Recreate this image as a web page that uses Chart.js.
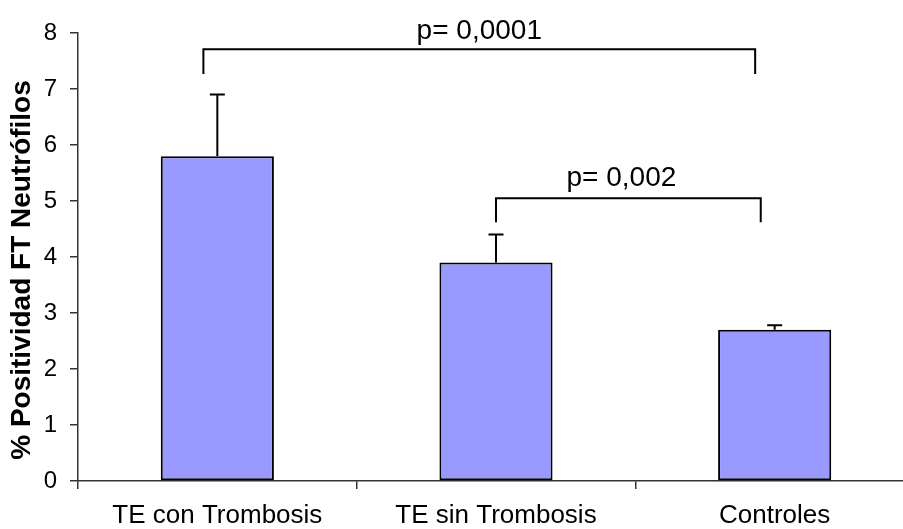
<!DOCTYPE html>
<html lang="es">
<head>
<meta charset="utf-8">
<title>Positividad FT neutrófilos</title>
<script src="https://cdn.jsdelivr.net/npm/chart.js@4.4.0/dist/chart.umd.min.js"></script>
<style>
    html, body { margin: 0; padding: 0; background: #fff; overflow: hidden; }
    #wrap { position: relative; width: 914px; height: 529px; }
</style>
</head>
<body>
<div id="wrap"><canvas id="chart"></canvas></div>
<script>
// Groups and their means (%), with the upper end of each error bar
const groups = ['TE con Trombosis', 'TE sin Trombosis', 'Controles'];
const meanPct = [5.8, 3.9, 2.7];
const errTop = [6.9, 4.4, 2.78];
const yTicks = [0, 1, 2, 3, 4, 5, 6, 7, 8];
const pValues = ['p= 0,0001', 'p= 0,002'];

const FONT = '"Liberation Sans", Arial, Helvetica, sans-serif';
const AXIS_COLOR = '#333';

// Significance brackets, in scale units (category index / y value)
const brackets = [
    { from: -0.05, to: 1.93, top: 7.71, foot: 7.27, textX: 0.94, textY: 7.89 },
    { from: 1.0, to: 1.95, top: 5.05, foot: 4.62, textX: 1.45, textY: 5.26 }
];

const errorBars = {
    id: 'errorBars',
    afterDatasetsDraw(chart) {
        const { ctx } = chart;
        const y = chart.scales.y;
        const meta = chart.getDatasetMeta(0);
        ctx.save();
        ctx.strokeStyle = '#000';
        ctx.lineWidth = 2;
        meta.data.forEach((bar, i) => {
            const yt = y.getPixelForValue(errTop[i]);
            ctx.beginPath();
            ctx.moveTo(bar.x, bar.y);
            ctx.lineTo(bar.x, yt);
            ctx.moveTo(bar.x - 7.5, yt);
            ctx.lineTo(bar.x + 7.5, yt);
            ctx.stroke();
        });
        ctx.restore();
    }
};

const sigBrackets = {
    id: 'sigBrackets',
    afterDraw(chart) {
        const { ctx } = chart;
        const { x, y } = chart.scales;
        ctx.save();
        ctx.strokeStyle = '#000';
        ctx.lineWidth = 2;
        ctx.fillStyle = '#000';
        ctx.font = '28px ' + FONT;
        ctx.textAlign = 'center';
        ctx.textBaseline = 'alphabetic';
        brackets.forEach((b, i) => {
            const x1 = x.getPixelForValue(b.from);
            const x2 = x.getPixelForValue(b.to);
            const yTop = y.getPixelForValue(b.top);
            const yFoot = y.getPixelForValue(b.foot);
            ctx.beginPath();
            ctx.moveTo(x1, yFoot);
            ctx.lineTo(x1, yTop);
            ctx.lineTo(x2, yTop);
            ctx.lineTo(x2, yFoot);
            ctx.stroke();
            ctx.fillText(pValues[i], x.getPixelForValue(b.textX), y.getPixelForValue(b.textY));
        });

        // rotated y-axis title
        ctx.font = 'bold 28px ' + FONT;
        ctx.textBaseline = 'middle';
        ctx.translate(22, 270);
        ctx.rotate(-Math.PI / 2);
        ctx.fillText('% Positividad FT Neutrófilos', 0, 0);
        ctx.restore();
    }
};

new Chart(document.getElementById('chart'), {
    type: 'bar',
    data: {
        labels: groups,
        datasets: [{
            data: meanPct,
            backgroundColor: '#9999ff',
            borderColor: '#000',
            borderWidth: 2,
            borderSkipped: false,
            categoryPercentage: 1,
            barPercentage: 0.406
        }]
    },
    options: {
        responsive: true,
        maintainAspectRatio: false,
        animation: false,
        layout: { padding: { top: 33, right: 0, bottom: 0, left: 0 } },
        plugins: {
            legend: { display: false },
            tooltip: { enabled: false }
        },
        scales: {
            x: {
                offset: true,
                grid: { display: true, drawOnChartArea: false, drawTicks: true, tickLength: 8, color: AXIS_COLOR, lineWidth: 1.5, offset: true },
                border: { display: true, color: AXIS_COLOR, width: 1.5 },
                ticks: { color: '#000', font: { family: FONT, size: 26 }, padding: 11, maxRotation: 0 },
                afterFit: s => { s.height = 48; }
            },
            y: {
                min: 0,
                max: 8,
                afterBuildTicks: s => { s.ticks = yTicks.map(v => ({ value: v })); },
                grid: { drawOnChartArea: false, drawTicks: true, tickLength: 8, color: AXIS_COLOR, lineWidth: 1.5 },
                border: { display: true, color: AXIS_COLOR, width: 1.5 },
                ticks: { color: '#000', font: { family: FONT, size: 24 }, padding: 13 },
                afterFit: s => { s.width = 78; }
            }
        }
    },
    plugins: [errorBars, sigBrackets]
});
</script>
</body>
</html>
